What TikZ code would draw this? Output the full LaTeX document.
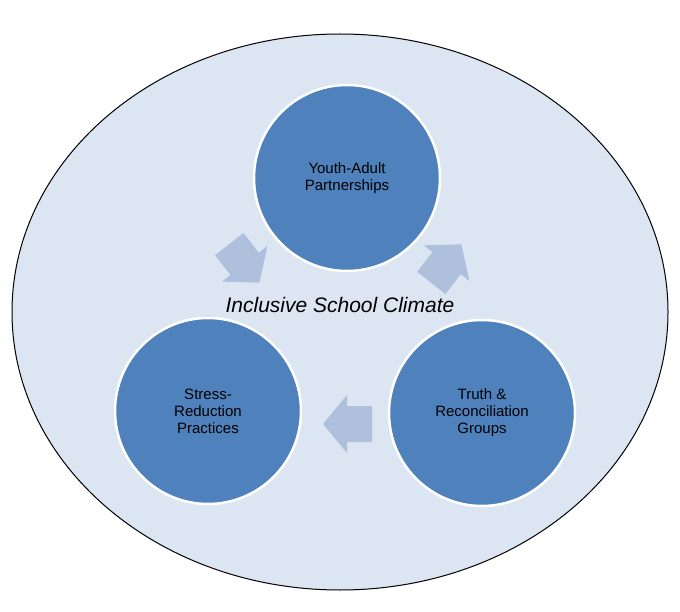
\documentclass[tikz,border=0pt]{standalone}
\usetikzlibrary{shapes.geometric}
\usepackage{fontspec}
\setmainfont{Liberation Sans}
\definecolor{bg}{HTML}{DCE6F2}
\definecolor{cb}{HTML}{4F81BD}
\definecolor{ar}{HTML}{AFC0DD}
\begin{document}
\begin{tikzpicture}[x=1pt,y=-1pt,
  circ/.style={circle,fill=cb,draw=white,line width=2.5pt,minimum size=186pt,align=center,font=\fontsize{15}{17}\selectfont,text=black},
  blk/.pic={\fill[ar] (-24,-18) -- (1,-18) -- (1,-29) -- (25,0) -- (1,29) -- (1,18) -- (-24,18) -- cycle;}]
\useasboundingbox (0,0) rectangle (680,612);
\node[ellipse,draw=black,line width=1pt,fill=bg,minimum width=656pt,minimum height=556pt,inner sep=0pt] (bg) at (340,312) {};
\node[circ] (a) at (347,178) {Youth-Adult\\Partnerships};
\node[circ] (b) at (482,413) {Truth \&\\Reconciliation\\Groups};
\node[circ] (c) at (208,411) {Stress-\\Reduction\\Practices};
\node[font=\itshape\fontsize{21}{24}\selectfont] (t) at (340,305) {Inclusive School Climate};
\pic[rotate=-52] at (244,263) {blk};
\pic[rotate=52] at (446,264) {blk};
\pic[rotate=180] at (348,424) {blk};
\end{tikzpicture}
\end{document}
